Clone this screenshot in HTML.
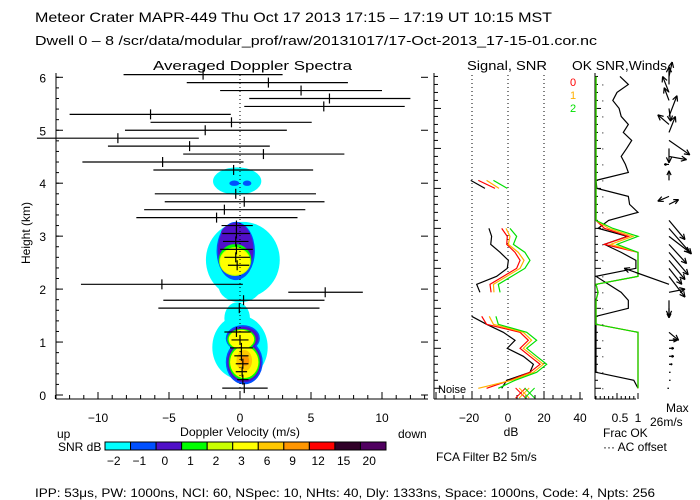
<!DOCTYPE html>
<html><head><meta charset="utf-8"><style>
html,body{margin:0;padding:0;background:#fff;}
svg{display:block;font-family:"Liberation Sans",sans-serif;}
</style></head><body>
<svg id="c" width="700" height="500" viewBox="0 0 700 500">
<text x="35" y="22" font-size="14" textLength="517" lengthAdjust="spacingAndGlyphs">Meteor Crater  MAPR-449  Thu Oct 17 2013 17:15 – 17:19 UT 10:15 MST</text>
<text x="35" y="45" font-size="13" textLength="562" lengthAdjust="spacingAndGlyphs">Dwell  0 –  8   /scr/data/modular_prof/raw/20131017/17-Oct-2013_17-15-01.cor.nc</text>
<text x="153" y="70" font-size="13" textLength="199" lengthAdjust="spacingAndGlyphs">Averaged Doppler Spectra</text>
<text x="467" y="70" font-size="13" textLength="80" lengthAdjust="spacingAndGlyphs">Signal, SNR</text>
<text x="572" y="70" font-size="13" textLength="95" lengthAdjust="spacingAndGlyphs">OK SNR,Winds</text>
<text transform="translate(30,233) rotate(-90)" font-size="12" text-anchor="middle">Height (km)</text>
<text x="180" y="436" font-size="12" textLength="120" lengthAdjust="spacingAndGlyphs">Doppler Velocity (m/s)</text>
<text x="57" y="438" font-size="12">up</text>
<text x="398" y="438" font-size="12">down</text>
<text x="511" y="436" font-size="12" text-anchor="middle">dB</text>
<text x="603" y="437" font-size="12">Frac OK</text>
<text x="603" y="451" font-size="12">··· AC offset</text>
<text x="666" y="412" font-size="12">Max</text>
<text x="650" y="426" font-size="12">26m/s</text>
<text x="58" y="451" font-size="12">SNR dB</text>
<text x="436" y="461" font-size="12">FCA Filter B2  5m/s</text>
<text x="35" y="497" font-size="12" textLength="620" lengthAdjust="spacingAndGlyphs">IPP:  53μs,  PW: 1000ns,  NCI:  60,  NSpec: 10, NHts: 40,  Dly: 1333ns,  Space: 1000ns,  Code: 4,  Npts: 256</text>
<text x="438" y="393" font-size="11">Noise</text>
<text x="570" y="86" font-size="11" fill="#ff0000">0</text>
<text x="570" y="99" font-size="11" fill="#ffb000">1</text>
<text x="570" y="112" font-size="11" fill="#00e000">2</text>
<g id="g"></g>
</svg>
<script>
// ---- data ----
const barH = [6.05,5.9,5.75,5.6,5.45,5.3,5.15,5.0,4.85,4.7,4.55,4.4,4.25,3.8,3.65,3.5,3.35,3.2,3.05,2.9,2.75,2.6,2.45,2.09,1.94,1.79,1.64,1.19,1.04,0.89,0.74,0.59,0.44,0.29,0.13];
const barMean = [-2.6,2.0,4.3,6.3,5.9,-6.3,-0.6,-2.45,-8.6,-3.55,1.65,-5.45,-0.45,-0.3,0.3,-1.1,-1.65,-0.25,-0.25,-0.3,-0.25,-0.3,-0.2,-5.5,6.0,0.25,-0.05,-0.25,0.0,0.1,0.1,0.2,0.15,0.2,0.3];
const barLo = [-8.2,-3.75,-1.4,0.65,0.3,-12.0,-6.3,-8.1,-14.3,-9.3,-4.0,-11.1,-6.1,-6.0,-5.3,-6.75,-7.3,-1.3,-1.25,-1.2,-1.4,-1.1,-0.85,-11.2,3.4,-5.4,-5.75,-1.1,-0.6,-0.7,-0.4,-0.3,-0.3,-0.2,-1.25];
const barHi = [3.0,7.6,10.0,12.0,11.6,-0.65,5.05,3.3,-2.9,2.1,7.35,0.25,5.15,5.35,5.95,4.6,4.05,0.9,0.7,0.6,0.9,0.7,0.65,0.2,8.65,5.95,5.6,0.75,0.6,0.9,0.6,0.6,0.5,0.6,1.95];
// blobs: velocity, height, radius v, radius h, colour level
const blobV = [0.2,0.0,-0.2,0.0,-0.2,-0.3,-0.3,-0.4,-0.35,-0.35,-0.35,-0.4,0.5,0.2,0.3,0.2,0.3,0.1,0.3,0.1,0.3,0.3,0.35];
const blobH = [2.55,2.05,4.04,0.9,1.45,2.72,2.75,3.05,2.55,2.52,2.52,4.0,4.0,1.07,0.62,1.07,0.62,1.05,0.62,1.05,0.62,0.65,0.65];
const blobRV = [2.6,1.5,1.7,1.95,0.9,1.35,1.25,0.95,1.15,1.1,1.05,0.35,0.3,1.2,1.3,1.1,1.2,1.0,1.1,0.9,1.0,0.55,0.3];
const blobRH = [0.72,0.3,0.26,0.6,0.3,0.55,0.5,0.17,0.3,0.27,0.25,0.05,0.05,0.25,0.42,0.22,0.38,0.2,0.34,0.18,0.3,0.2,0.1];
const blobL = [0,0,0,0,0,1,2,2,3,4,5,1,1,1,1,2,2,3,3,5,5,6,7];
const levels = ["-2","-1","0","1","2","3","6","9","12","15","20"];
const levelColors = ["#00ffff","#0050ff","#5010c8","#00ff00","#c8ff00","#ffff00","#ffc800","#ff9600","#ff0000","#300028","#500060"];
// signal panel (dB per gate)
const sigBlackA = [[26,-20.7],[25,-12.8]];
const sigBlackB = [[20,-10.6],[19,-9.1],[18,-9.6],[17,-4.4],[16,0.2],[15,-0.4],[14,-6.3],[13,-17.4],[12,-15.6]];
const sigBlackC = [[9,-20.2],[8,-11.9],[7,-2.6],[6,3.9],[5,-0.4],[4,8.5],[3,14.1],[2,12.2],[1,-0.7],[0,-3.5]];
const sigRedA = [[26,-16.5],[25,-7.2]];
const sigRedB = [[20,-3.5],[19,-0.4],[18,-0.7],[17,3.9],[16,6.7],[15,4.8],[14,-2.6],[13,-10.0],[12,-9.4]];
const sigRedC = [[9,-14.6],[8,-11.9],[7,6.7],[6,11.3],[5,6.7],[4,12.2],[3,17.8],[2,12.2],[1,1.1],[0,-11.9]];
const sigOrgA = [[26,-11.9],[25,-5.0]];
const sigOrgB = [[20,-1.1],[19,1.1],[18,0.2],[17,5.7],[16,8.9],[15,6.7],[14,-0.7],[13,-8.1],[12,-7.8]];
const sigOrgC = [[9,-10.4],[8,-8.1],[7,8.5],[6,13.1],[5,8.5],[4,14.1],[3,19.6],[2,14.1],[1,2.0],[0,-16.5]];
const sigGrnA = [[26,-8.1],[25,-0.4]];
const sigGrnB = [[20,1.1],[19,4.8],[18,3.0],[17,9.4],[16,12.2],[15,9.4],[14,2.0],[13,-5.4],[12,-4.4]];
const sigGrnC = [[9,-6.7],[8,-5.4],[7,10.4],[6,15.9],[5,10.4],[4,15.9],[3,21.5],[2,15.9],[1,3.9],[0,-5.4]];
const noiseDb = [7,9,12];
// fraction OK per gate (0..39)
const fracBlack = [1.0,0.9,0,0,0,0,0,0,0,0,0.77,0.77,0.6,0.3,0.0,0.95,0.95,0.6,0.2,0.75,0.05,0.3,1.0,0.8,0.77,0.02,0.0,0.77,0.7,0.6,0.73,0.85,0.65,0.77,0.6,0.55,0.4,0.5,0.77,0.57];
const fracGreen = [1,1,1,1,1,1,1,1,0,0,0,0,0.05,0,1,1,1,1,0.5,1,0.4,0,0,0,0,0,0,0,0,0,0,0,0,0,0,0,0,0,0,0];
const fracRed = [1,1,1,1,1,1,1,1,0,0,0,0,0.05,0,1,1,1,1,0.2,0.77,0.2,0,0,0,0,0,0,0,0,0,0,0,0,0,0,0,0,0,0,0];
const fracOrg = [1,1,1,1,1,1,1,1,0,0,0,0,0.05,0,1,1,1,1,0.35,0.88,0.3,0,0,0,0,0,0,0,0,0,0,0,0,0,0,0,0,0,0,0];
// winds: gate, u, v (m/s)
const windGate = [39,38,37,36,35,34,33,32,31,30,29,28,26,24,23,21,20,19,18,17,16,15,14,13,12,11,10,7,6,5,4,3,2,1,0];
const windU = [2,0,-4,-3,1,5,-7,4,13,0,11,-3,0,-7,6,10,14,13,11,12,10,8,10,-28,10,0,0,6,5,3,3,2,1,1,-1];
const windV = [9,11,10,8,-8,13,6,10,-9,-9,-2,0,6,-3,3,-12,-16,-10,-12,-14,-12,-10,-13,10,2,-10,-6,-5,0,0,0,0,0,0,0];
const xTicks = [-10,-5,0,5,10];
const yTicks = [0,1,2,3,4,5,6];
const dbTicks = [-20,0,20,40];
const fracTicks = [0.5,1];

// ---- scales ----
const yH = h => 395 - h*52.95;
const xV = v => 240 + v*14.2;
const xDb = d => 508 + d*1.8;
const gateH = i => 0.127 + 0.151*i;
const xF = f => 596 + f*42;
const G = document.getElementById('g');
const NS = 'http://www.w3.org/2000/svg';
function mk(tag, attrs){const e=document.createElementNS(NS,tag);for(const k in attrs)e.setAttribute(k,attrs[k]);G.appendChild(e);return e;}
function line(x1,y1,x2,y2,st,w,dash){return mk('line',{x1,y1,x2,y2,stroke:st||'#000','stroke-width':w||1,'stroke-dasharray':dash||'none'});}

// blobs, drawn lowest level first
const order = blobV.map((_,i)=>i).sort((a,b)=>blobL[a]-blobL[b]||a-b);
for(const i of order){
  const e=mk('ellipse',{cx:xV(blobV[i]),cy:yH(blobH[i]),rx:blobRV[i]*14.2,ry:blobRH[i]*52.95,fill:levelColors[blobL[i]]});
  
  
}
// zero line
let z=line(xV(0),75,xV(0),399,'#000',1,'1,3');

// error bars
for(let i=0;i<barH.length;i++){
  const y=yH(barH[i]);
  const b=line(Math.max(xV(barLo[i]),36),y,xV(barHi[i]),y,'#000',1.2);
  
  
  const c=line(xV(barMean[i]),y-5,xV(barMean[i]),y+5,'#000',1.2);
  
  
}
// axes main
line(56,73,56,399);line(56,399,428,399);
for(const t of yTicks){line(56,yH(t),63,yH(t));line(421,yH(t),428,yH(t));
  const tx=mk('text',{x:46,y:yH(t)+5,'font-size':12,'text-anchor':'end'});tx.textContent=t;
  }
for(let h=0.2;h<6.1;h+=0.2){line(56,yH(h),59,yH(h));}
for(let v=-13;v<=13;v++){const L=v%5===0?7:4;line(xV(v),399,xV(v),399-L);}
for(const t of xTicks){const tx=mk('text',{x:xV(t),y:422,'font-size':12,'text-anchor':'middle'});tx.textContent=(t<0?'−':'')+Math.abs(t);
  }
// signal panel
line(434,73,434,399);line(434,399,583,399);
for(let i=0;i<40;i++){const L=i%5===0?7:4;line(434,yH(gateH(i)),434+L,yH(gateH(i)));}
for(const d of [-20,0,20]){line(xDb(d),75,xDb(d),399,'#000',1,'1,3');}
for(let d=-40;d<=40;d+=5){line(xDb(d),399,xDb(d),399-(d%20===0?7:4));}
for(const t of dbTicks){const tx=mk('text',{x:xDb(t)+(t<0?-3:0),y:422,'font-size':12,'text-anchor':'middle'});tx.textContent=(t<0?'−':'')+Math.abs(t);
  }
function poly(arr,col,name,fx,fy){const p=mk('polyline',{points:arr.map(a=>fx(a)+','+fy(a)).join(' '),fill:'none',stroke:col,'stroke-width':1.2});
  return p;}
const sx=a=>xDb(a[1]), sy=a=>yH(gateH(a[0]));
[[sigBlackA,sigBlackB,sigBlackC,'#000','signal-line'],[sigRedA,sigRedB,sigRedC,'#ff0000','snr-line-0'],[sigOrgA,sigOrgB,sigOrgC,'#ffb000','snr-line-1'],[sigGrnA,sigGrnB,sigGrnC,'#00e000','snr-line-2']]
 .forEach(s=>{poly(s[0],s[3],s[4],sx,sy);poly(s[1],s[3],s[4],sx,sy);poly(s[2],s[3],s[4],sx,sy);});
const ncol=['#ff0000','#ffb000','#00e000'];
noiseDb.forEach((d,i)=>{const x=xDb(d),y=393;
  const a=line(x-5,y-5,x+5,y+5,ncol[i]);
  line(x+5,y-5,x-5,y+5,ncol[i]);});
// frac panel
line(595,73,595,399);line(595,399,636,399);
for(let i=0;i<40;i++){const L=i%5===0?6:3;line(595,yH(gateH(i)),595+L,yH(gateH(i)));}
for(let f=0;f<=1.001;f+=0.1){line(xF(f),399,xF(f),399-(Math.abs(f-0.5)<0.01||f>0.99?6:3));}
for(const t of fracTicks){const tx=mk('text',{x:xF(t)+(t<1?3:0),y:422,'font-size':12,'text-anchor':'middle'});tx.textContent=t;
  }
function fracLine(arr,col,name){const p=[];arr.forEach((f,i)=>p.push(xF(f)+','+yH(gateH(i))));
  const e=mk('polyline',{points:p.join(' '),fill:'none',stroke:col,'stroke-width':1.2});
  }
fracLine(fracBlack,'#000','frac-ok-ac-line');
fracLine(fracRed,'#ff0000','frac-ok-line-0');
fracLine(fracOrg,'#ffb000','frac-ok-line-1');
fracLine(fracGreen,'#00e000','frac-ok-line-2');
for(let i=0;i<40;i+=2){mk('rect',{x:xF(0.15),y:yH(gateH(i)),width:1,height:1,fill:'#000'});}
// winds
const wx=669, ws=1.6;
for(let i=0;i<windGate.length;i++){
  const y0=yH(gateH(windGate[i])), x1=wx+windU[i]*ws, y1=y0-windV[i]*ws;
  const a=line(wx,y0,x1,y1,'#000',1.2);
  
  
  const ang=Math.atan2(y1-y0,x1-wx), L=Math.min(6,Math.hypot(x1-wx,y1-y0)*0.5);
  if(L>1){line(x1,y1,x1-L*Math.cos(ang-0.45),y1-L*Math.sin(ang-0.45),'#000',1.2);
          line(x1,y1,x1-L*Math.cos(ang+0.45),y1-L*Math.sin(ang+0.45),'#000',1.2);}
}
// colorbar
const cbx=105, cbw=(386-105)/levels.length;
levels.forEach((l,i)=>{
  const r=mk('rect',{x:cbx+i*cbw,y:442,width:cbw,height:8,fill:levelColors[i],stroke:'#000','stroke-width':1});
  
  
  const t=mk('text',{x:cbx+i*cbw+cbw/2-4,y:465,'font-size':12,'text-anchor':'middle'});t.textContent=l.replace('-','−');
  
  
});
</script>
</body></html>
